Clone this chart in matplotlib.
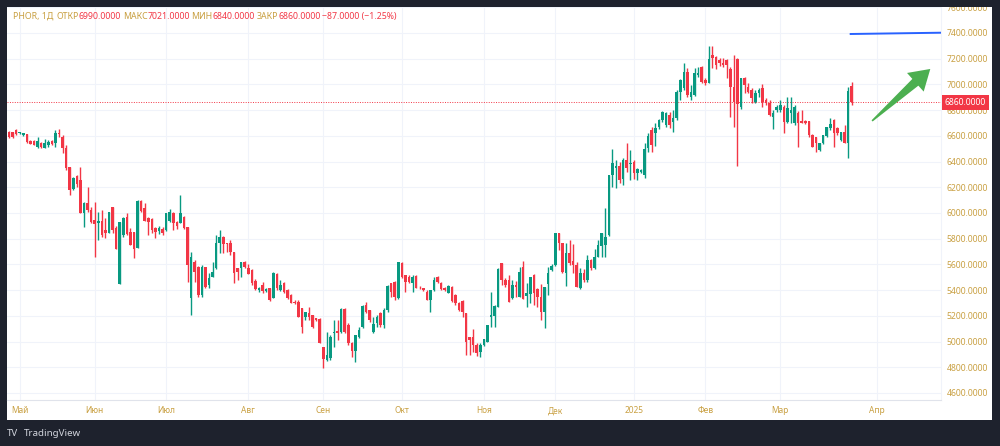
import numpy as np
import matplotlib.pyplot as plt
from matplotlib.patches import Rectangle, Polygon
from matplotlib.offsetbox import TextArea, HPacker, AnchoredOffsetbox
import matplotlib.transforms as mtransforms

plt.rcParams['font.family'] = ['Noto Sans', 'DejaVu Sans']

# daily candles, PHOR
opens = [6633, 6628, 6646, 6620, 6604, 6612, 6563, 6563, 6516, 6547, 6508, 6529, 6563, 6542, 6620, 6589,
         6508, 6360, 6184, 6288, 6257, 5997, 6075, 6023, 5946, 5925, 5940, 5868, 5842, 6049, 5881, 5445,
         5829, 5971, 5855, 5855, 5725, 6096, 6036, 5958, 5951, 5881, 5860, 5873, 5868, 5940, 5997, 5933,
         5925, 5971, 5894, 5336, 5621, 5577, 5362, 5582, 5440, 5505, 5570, 5764, 5811, 5764, 5764, 5697,
         5570, 5570, 5616, 5570, 5557, 5470, 5400, 5440, 5395, 5414, 5341, 5523, 5401, 5453, 5401, 5360,
         5310, 5310, 5258, 5193, 5219, 5206, 5180, 5175, 4960, 4856, 4869, 5064, 5085, 5077, 5251, 5129,
         4991, 4926, 5038, 5111, 5284, 5245, 5077, 5142, 5219, 5129, 5245, 5453, 5466, 5336, 5614, 5518,
         5505, 5453, 5510, 5420, 5414, 5388, 5323, 5401, 5505, 5453, 5420, 5380, 5427, 5360, 5302, 5315,
         5219, 5033, 5033, 4973, 4921, 4973, 4999, 5188, 5199, 5271, 5608, 5479, 5479, 5336, 5440, 5349,
         5582, 5354, 5370, 5518, 5409, 5349, 5232, 5445, 5557, 5595, 5842, 5769, 5531, 5691, 5629, 5595,
         5414, 5531, 5479, 5634, 5570, 5660, 5746, 5751, 5829, 6296, 6353, 6366, 6262, 6412, 6381, 6399,
         6309, 6321, 6296, 6503, 6645, 6620, 6671, 6723, 6684, 6762, 6710, 6736, 6944, 6970, 7099, 6905,
         6918, 7073, 7138, 7034, 7014, 7229, 7216, 7190, 7164, 7190, 7120, 6983, 7195, 6827, 7052, 6983,
         6957, 6866, 6931, 6970, 6879, 6853, 6749, 6801, 6801, 6827, 6710, 6775, 6697, 6775, 6718, 6718,
         6715, 6606, 6588, 6490, 6547, 6599, 6658, 6723, 6658, 6568, 6632, 6542, 6990]
highs = [6638, 6633, 6651, 6633, 6620, 6615, 6568, 6565, 6594, 6552, 6576, 6568, 6568, 6646, 6653, 6607,
         6529, 6360, 6283, 6296, 6360, 6083, 6200, 6049, 6088, 6005, 6023, 5958, 6010, 6049, 5899, 5933,
         5971, 5997, 5881, 5855, 6101, 6101, 6075, 5971, 5958, 5894, 5899, 5894, 5997, 6031, 6010, 5940,
         6140, 5979, 5894, 5699, 5634, 5590, 5595, 5582, 5531, 5621, 5829, 5870, 5821, 5769, 5790, 5699,
         5570, 5621, 5629, 5603, 5565, 5490, 5425, 5460, 5420, 5420, 5540, 5531, 5479, 5460, 5410, 5370,
         5320, 5320, 5258, 5232, 5271, 5206, 5185, 5180, 4960, 5077, 5051, 5168, 5168, 5258, 5258, 5142,
         4999, 5051, 5116, 5284, 5310, 5245, 5193, 5206, 5232, 5258, 5440, 5458, 5471, 5621, 5621, 5518,
         5518, 5518, 5518, 5430, 5420, 5401, 5401, 5505, 5510, 5460, 5427, 5440, 5432, 5370, 5310, 5323,
         5225, 5038, 5095, 4986, 4985, 5017, 5129, 5388, 5284, 5570, 5608, 5497, 5518, 5479, 5471, 5582,
         5629, 5453, 5505, 5523, 5414, 5445, 5427, 5582, 5603, 5847, 5847, 5769, 5764, 5790, 5759, 5616,
         5570, 5564, 5673, 5640, 5717, 5790, 5842, 6036, 6296, 6495, 6412, 6399, 6425, 6542, 6490, 6412,
         6347, 6340, 6542, 6620, 6671, 6697, 6730, 6790, 6788, 6788, 6801, 6957, 7040, 7164, 7125, 6995,
         7125, 7133, 7143, 7047, 7299, 7299, 7224, 7203, 7203, 7195, 7138, 7229, 7203, 7052, 7060, 7008,
         6970, 6957, 6970, 7003, 6892, 6879, 6801, 6840, 6879, 6840, 6905, 6905, 6840, 6790, 6801, 6723,
         6718, 6612, 6590, 6547, 6606, 6671, 6736, 6728, 6666, 6632, 6684, 6983, 7021]
lows = [6586, 6586, 6604, 6612, 6600, 6547, 6534, 6529, 6503, 6508, 6503, 6516, 6529, 6516, 6594, 6464,
        6334, 6140, 6179, 6205, 5997, 5894, 6010, 5920, 5660, 5790, 5816, 5803, 5842, 5842, 5717, 5445,
        5816, 5829, 5751, 5652, 5725, 6010, 5938, 5829, 5842, 5808, 5834, 5829, 5860, 5933, 5868, 5873,
        5920, 5876, 5461, 5206, 5466, 5350, 5349, 5414, 5414, 5505, 5562, 5686, 5686, 5694, 5673, 5453,
        5479, 5505, 5570, 5525, 5440, 5400, 5385, 5380, 5385, 5315, 5336, 5400, 5390, 5380, 5328, 5297,
        5290, 5188, 5064, 5170, 5168, 5103, 5160, 4986, 4792, 4850, 4856, 4960, 5012, 5064, 5064, 4973,
        4882, 4843, 5025, 5103, 5219, 5155, 5069, 5116, 5116, 5103, 5232, 5349, 5323, 5331, 5492, 5388,
        5453, 5388, 5414, 5405, 5396, 5320, 5232, 5395, 5453, 5400, 5395, 5375, 5310, 5284, 5240, 5194,
        4895, 4895, 4921, 4887, 4877, 4965, 4995, 5116, 5116, 5265, 5440, 5427, 5310, 5330, 5349, 5345,
        5328, 5271, 5297, 5284, 5271, 5168, 5103, 5362, 5550, 5590, 5712, 5531, 5432, 5595, 5531, 5422,
        5410, 5466, 5466, 5557, 5565, 5655, 5660, 5660, 5820, 6200, 6192, 6236, 6218, 6321, 6257, 6262,
        6257, 6310, 6270, 6477, 6477, 6520, 6650, 6710, 6671, 6660, 6632, 6723, 6880, 6960, 6905, 6879,
        6910, 7060, 7008, 6995, 7008, 7125, 7117, 7143, 7138, 7047, 6744, 6671, 6365, 6810, 6931, 6931,
        6858, 6858, 6905, 6827, 6840, 6754, 6651, 6788, 6788, 6620, 6697, 6697, 6684, 6516, 6697, 6690,
        6594, 6511, 6477, 6485, 6540, 6594, 6645, 6516, 6610, 6560, 6542, 6425, 6840]
closes = [6594, 6594, 6612, 6628, 6620, 6550, 6536, 6532, 6563, 6510, 6542, 6555, 6534, 6620, 6612, 6503,
          6347, 6179, 6270, 6226, 6003, 6075, 6023, 5927, 5914, 5940, 5829, 5847, 6010, 5868, 5720, 5933,
          5958, 5837, 5751, 5717, 6096, 6016, 5940, 5933, 5868, 5855, 5881, 5847, 5997, 6010, 5920, 5899,
          5997, 5881, 5595, 5660, 5544, 5362, 5582, 5427, 5492, 5544, 5764, 5816, 5756, 5759, 5699, 5530,
          5543, 5616, 5577, 5525, 5453, 5410, 5418, 5393, 5410, 5320, 5536, 5414, 5440, 5388, 5335, 5300,
          5297, 5190, 5116, 5232, 5193, 5110, 5168, 4991, 4862, 4895, 5038, 5077, 5064, 5251, 5077, 4991,
          4926, 5051, 5090, 5276, 5232, 5168, 5136, 5188, 5129, 5245, 5432, 5388, 5349, 5621, 5500, 5466,
          5466, 5505, 5414, 5414, 5400, 5323, 5401, 5479, 5460, 5406, 5401, 5435, 5315, 5300, 5245, 5232,
          4994, 5012, 4973, 4908, 4973, 5017, 5125, 5206, 5276, 5562, 5479, 5440, 5310, 5440, 5427, 5538,
          5328, 5380, 5500, 5375, 5349, 5232, 5427, 5536, 5588, 5847, 5769, 5544, 5686, 5608, 5595, 5427,
          5531, 5479, 5634, 5570, 5660, 5751, 5842, 5816, 6296, 6391, 6366, 6257, 6412, 6347, 6391, 6309,
          6342, 6334, 6495, 6599, 6530, 6658, 6723, 6788, 6780, 6684, 6736, 6944, 7034, 7099, 6918, 6944,
          7086, 7091, 7021, 7014, 7195, 7203, 7151, 7164, 7151, 7151, 6983, 6866, 6848, 7052, 6995, 6944,
          6892, 6931, 6957, 6866, 6853, 6762, 6780, 6827, 6840, 6710, 6814, 6801, 6827, 6702, 6702, 6697,
          6606, 6516, 6542, 6547, 6606, 6666, 6692, 6620, 6620, 6632, 6542, 6947, 6860]

# first trading day of each month (bar index) and its label
month_starts = [3, 24, 44, 67, 88, 110, 133, 153, 175, 195, 216, 243]
month_labels = ['Май', 'Июн', 'Июл', 'Авг', 'Сен', 'Окт', 'Ноя', 'Дек', '2025', 'Фев', 'Мар', 'Апр']
price_ticks = list(range(4600, 7601, 200))
ticker = 'PHOR, 1Д'

# drawings on the chart
target_x = [235.7, 261]
target_y = [7392, 7402]
arrow_start = (241.7, 6716)
arrow_end = (258.0, 7120)

UP = '#089981'
DOWN = '#f23645'
GOLD = '#c9a042'
BG = '#1e222d'
GRID = '#f0f3fa'
ARROW = '#4caf50'

o = np.array(opens, float)
h = np.array(highs, float)
l = np.array(lows, float)
c = np.array(closes, float)
x = np.arange(len(o))
colors = np.where(c >= o, UP, DOWN)

fig = plt.figure(figsize=(10, 4.46), dpi=100, facecolor=BG)
fig.add_artist(Rectangle((0.007, 26 / 446), 0.985, 413 / 446, transform=fig.transFigure,
                         facecolor='white', edgecolor='none', zorder=-1))

ax = fig.add_axes([0.007, 46 / 446, 0.934, 393 / 446])
ax.set_facecolor('white')

# candles
ax.vlines(x, l, h, colors=colors, linewidth=1.0, zorder=3)
body_lo = np.minimum(o, c)
body_h = np.maximum(np.abs(c - o), 6)
ax.bar(x, body_h, bottom=body_lo, width=0.72, color=colors, linewidth=0, zorder=4)

ax.set_xlim(-0.56, 261.0)
ax.set_ylim(4545, 7602)

ax.set_xticks(month_starts, month_labels)
ax.set_yticks(price_ticks, [f'{v:.4f}' for v in price_ticks])
ax.yaxis.tick_right()
ax.tick_params(axis='x', length=0, pad=4.5, labelsize=6, labelcolor=GOLD)
ax.tick_params(axis='y', length=0, pad=4, labelsize=6.2, labelcolor=GOLD)
ax.get_xticklabels()[8].set_fontweight('bold')
ax.grid(color=GRID, linewidth=0.8)
ax.set_axisbelow(True)
for side in ['top', 'left']:
    ax.spines[side].set_visible(False)
ax.spines['bottom'].set_color('#e0e3eb')
ax.spines['right'].set_color('#f0f3fa')

# last price line and label
last = c[-1]
ax.axhline(last, color=DOWN, linestyle=(0, (1, 1.5)), linewidth=0.7, zorder=2)
trans = mtransforms.blended_transform_factory(ax.transAxes, ax.transData)
ax.text(1.004, last, f'{last:.4f}', transform=trans, ha='left', va='center', color='white',
        fontsize=6.2, clip_on=False, zorder=10,
        bbox=dict(boxstyle='square,pad=0.35', facecolor=DOWN, edgecolor='none'))

# drawings: blue level and green arrow (tapered tail, built in pixel space)
ax.plot(target_x, target_y, color='#2962ff', linewidth=1.4, zorder=5)
p0 = ax.transData.transform(arrow_start)
p1 = ax.transData.transform(arrow_end)
u = (p1 - p0) / np.hypot(*(p1 - p0))
n = np.array([-u[1], u[0]])
base = p1 - u * 20
pts = [p0 + n * 0.8, base + n * 4.5, base + n * 12.5, p1,
       base - n * 12.5, base - n * 4.5, p0 - n * 0.8]
ax.add_patch(Polygon(ax.transData.inverted().transform(pts), closed=True,
                     facecolor=ARROW, edgecolor='none', zorder=6))

# header with OHLC of the last bar
chg = c[-1] - c[-2]
pct = chg / c[-2] * 100
sign = '−' if chg < 0 else '+'
parts = [(ticker, GOLD, 8)]
for name, val in [('ОТКР', o[-1]), ('МАКС', h[-1]), ('МИН', l[-1]), ('ЗАКР', c[-1])]:
    parts.append((name, GOLD, 0))
    parts.append((f'{val:.4f}', DOWN, 5))
parts.append((f'{sign}{abs(chg):.4f} ({sign}{abs(pct):.2f}%)', DOWN, 0))

boxes = []
for txt, col, gap in parts:
    boxes.append(TextArea(txt, textprops=dict(color=col, fontsize=6.3)))
    if gap:
        boxes.append(TextArea(' ', textprops=dict(fontsize=gap)))
header = HPacker(children=boxes, align='baseline', pad=0, sep=0)
anch = AnchoredOffsetbox(loc='upper left', child=header, frameon=False, pad=0, borderpad=0,
                         bbox_to_anchor=(0.013, 1 - 11 / 446), bbox_transform=fig.transFigure)
ax.add_artist(anch)

# dark frame drawn over the top edge
fig.add_artist(Rectangle((0, 439 / 446), 1, 7 / 446, transform=fig.transFigure,
                         facecolor=BG, edgecolor='none', zorder=20))

# footer logo
fig.text(0.007, 13 / 446, 'TV', color='#d1d4dc', fontsize=7, fontweight='bold', va='center')
fig.text(0.024, 13 / 446, 'TradingView', color='#d1d4dc', fontsize=7, va='center')

fig.savefig('out.png', dpi=100, facecolor=BG)
